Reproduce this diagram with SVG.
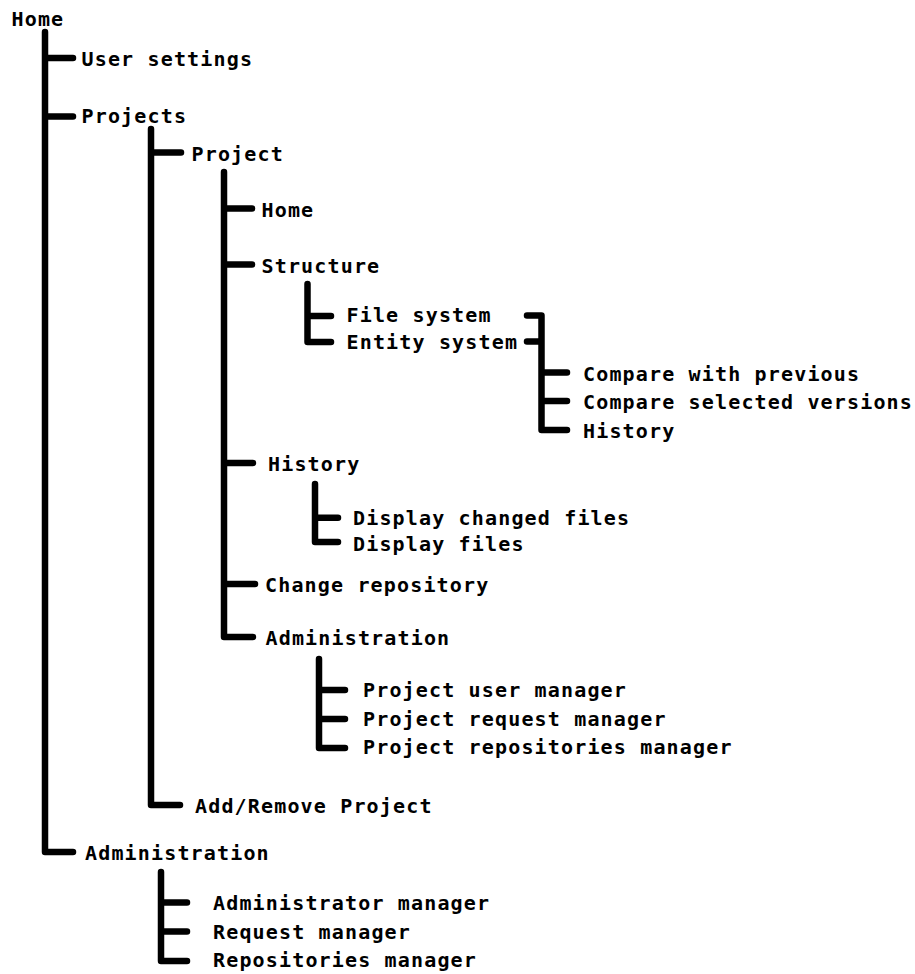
<svg xmlns="http://www.w3.org/2000/svg" width="915" height="974" viewBox="0 0 915 974">
  <style>
    .lbl { font-family: "DejaVu Sans Mono", "Liberation Mono", monospace; font-weight: bold; font-size: 20px; letter-spacing: 1.16px; fill: #000; }
    .wire { fill: none; stroke: #000; stroke-width: 6.5; stroke-linecap: round; stroke-linejoin: round; }
  </style>
  <rect width="915" height="974" fill="#fff"/>

  <!-- tree connectors -->
  <g id="connectors" class="wire">
    <!-- Home -->
    <path d="M45,32 V852 H73 M45,58 H73 M45,116.5 H73"/>
    <!-- Projects -->
    <path d="M151,129 V805 H180 M151,152.5 H181"/>
    <!-- Project -->
    <path d="M224,172 V637 H253 M224,208.5 H252 M224,264.5 H252 M224,463 H253 M224,584 H255"/>
    <!-- Structure -->
    <path d="M307.5,284 V342 H331 M307.5,316 H331"/>
    <!-- Entity system -->
    <path d="M527,315.5 H541.5 V430 H567 M527,341.5 H541.5 M541.5,372.5 H567 M541.5,401 H567"/>
    <!-- History -->
    <path d="M315,484 V542 H338 M315,517.7 H338"/>
    <!-- Project administration -->
    <path d="M319,659 V748 H345 M319,690 H345 M319,719 H345"/>
    <!-- Administration -->
    <path d="M161,872 V961 H187 M161,902.5 H187 M161,931.5 H187"/>
  </g>

  <g id="home"><text class="lbl" x="11.5" y="26">Home</text></g>
  <g id="user-settings"><text class="lbl" x="81.5" y="66">User settings</text></g>
  <g id="projects"><text class="lbl" x="81.5" y="123">Projects</text></g>
  <g id="project"><text class="lbl" x="191.5" y="160.5">Project</text></g>
  <g id="project-home"><text class="lbl" x="261.5" y="216.5">Home</text></g>
  <g id="structure"><text class="lbl" x="261.5" y="272.5">Structure</text></g>
  <g id="file-system"><text class="lbl" x="346.5" y="322">File system</text></g>
  <g id="entity-system"><text class="lbl" x="346.5" y="349">Entity system</text></g>
  <g id="compare-previous"><text class="lbl" x="583" y="380.5">Compare with previous</text></g>
  <g id="compare-selected"><text class="lbl" x="583" y="409">Compare selected versions</text></g>
  <g id="entity-history"><text class="lbl" x="583" y="437.5">History</text></g>
  <g id="history"><text class="lbl" x="268" y="471">History</text></g>
  <g id="display-changed"><text class="lbl" x="353" y="525">Display changed files</text></g>
  <g id="display-files"><text class="lbl" x="353" y="551">Display files</text></g>
  <g id="change-repository"><text class="lbl" x="265" y="592">Change repository</text></g>
  <g id="project-administration"><text class="lbl" x="265.5" y="645">Administration</text></g>
  <g id="project-user-manager"><text class="lbl" x="363" y="697">Project user manager</text></g>
  <g id="project-request-manager"><text class="lbl" x="363" y="725.5">Project request manager</text></g>
  <g id="project-repositories-manager"><text class="lbl" x="363" y="754">Project repositories manager</text></g>
  <g id="add-remove-project"><text class="lbl" x="195" y="812.5">Add/Remove Project</text></g>
  <g id="administration"><text class="lbl" x="85" y="859.5">Administration</text></g>
  <g id="administrator-manager"><text class="lbl" x="213" y="910">Administrator manager</text></g>
  <g id="request-manager"><text class="lbl" x="213" y="938.5">Request manager</text></g>
  <g id="repositories-manager"><text class="lbl" x="213" y="967">Repositories manager</text></g>
</svg>
